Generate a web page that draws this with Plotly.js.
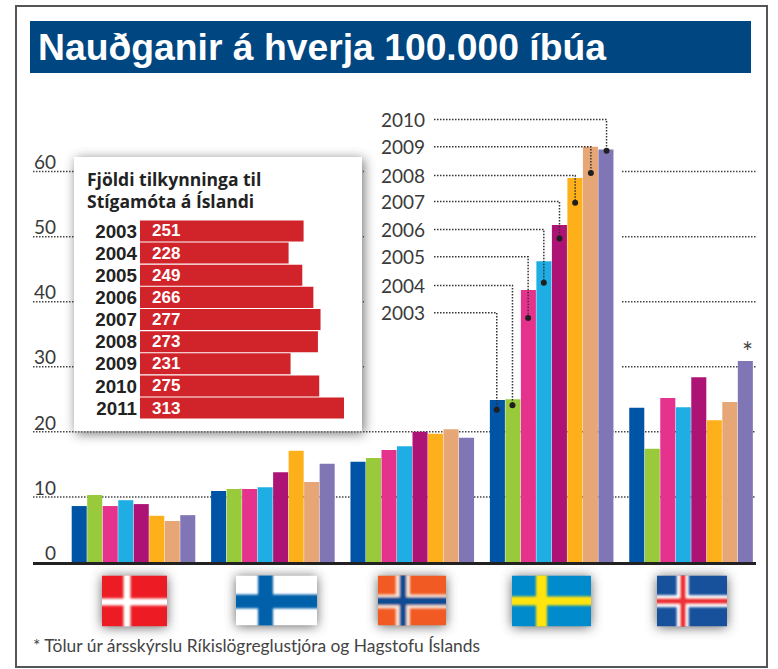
<!DOCTYPE html>
<html><head><meta charset="utf-8">
<script src="https://cdn.plot.ly/plotly-3.0.1.min.js"></script>
<style>html,body{margin:0;padding:0;background:#fff}</style></head>
<body><div id="chart" style="width:778px;height:669px"></div>
<script>
const countries = ["Danmörk","Finnland","Noregur","Svíþjóð","Ísland"];
const years = ["2003","2004","2005","2006","2007","2008","2009","2010"];
const v2003 = [8.6,10.9,15.4,24.9,23.7];
const v2004 = [10.3,11.2,16.0,25.0,17.4];
const v2005 = [8.6,11.2,17.2,41.8,25.2];
const v2006 = [9.5,11.5,17.8,46.2,23.8];
const v2007 = [8.9,13.8,20.0,51.8,28.4];
const v2008 = [7.1,17.1,19.7,59.0,21.8];
const v2009 = [6.3,12.3,20.4,63.8,24.6];
const v2010 = [7.2,15.1,19.1,63.4,30.9];
const seriesValues = [v2003,v2004,v2005,v2006,v2007,v2008,v2009,v2010];
const seriesColors = ["#0054a6","#99ca3c","#e5328c","#1eaee3","#ac1375","#fdb01a","#e7a676","#8076b6"];
const swedenDots = [23.4,24.1,37.5,42.9,49.7,55.2,59.8,63.2];
const yearLabelLevels = [38.3,42.5,46.9,51.1,55.4,59.4,63.8,68.0];
const insetYears = ["2003","2004","2005","2006","2007","2008","2009","2010","2011"];
const insetValues = [251,228,249,266,277,273,231,275,313];
const gridFull = [10,20];
const gridBroken = [30,40,50,60];
const axisTicks = [0,10,20,30,40,50,60];
const titleText = "Nauðganir á hverja 100.000 íbúa";
const insetTitle = ["Fjöldi tilkynninga til","Stígamóta á Íslandi"];
const footnote = "* Tölur úr ársskýrslu Ríkislögreglustjóra og Hagstofu Íslands";

const L=33,R=756,T=100,B=562.5;
const px=x=>(x-L)/(R-L), py=y=>(B-y)/(B-T);
const STEP=0.1125, LEADER_START=2.156;
const slotX=i=>3+(i-3.5)*STEP;

function flagUri(w,h,bg,layers){
  const m=26;
  let r='';
  layers.forEach(l=>{
    r+=`<rect x="${l[1]}" y="-5" width="${l[2]}" height="${h+10}" fill="${l[0]}"/>`;
    r+=`<rect x="-5" y="${l[3]}" width="${w+10}" height="${l[4]}" fill="${l[0]}"/>`;
  });
  const s=`<svg xmlns="http://www.w3.org/2000/svg" width="${w+2*m}" height="${h+2*m}"><defs><filter id="s" x="-50%" y="-50%" width="200%" height="200%"><feGaussianBlur stdDeviation="6"/></filter><filter id="c" x="-10%" y="-10%" width="120%" height="120%"><feGaussianBlur stdDeviation="1"/></filter></defs><rect x="${m}" y="${m+1}" width="${w}" height="${h}" fill="#444" opacity="0.8" filter="url(#s)"/><svg x="${m}" y="${m}" width="${w}" height="${h}" viewBox="0 0 ${w} ${h}"><rect width="${w}" height="${h}" fill="${bg}"/><g filter="url(#c)">${r}</g></svg></svg>`;
  return {uri:'data:image/svg+xml;charset=utf-8,'+encodeURIComponent(s),m};
}
function imageAt(x,y,w,h,o,layer){
  return {source:o.uri,xref:'paper',yref:'paper',x:px(x-o.m),y:py(y-o.m),sizex:(w+2*o.m)/(R-L),sizey:(h+2*o.m)/(B-T),xanchor:'left',yanchor:'top',sizing:'stretch',layer:layer||'above'};
}
function shadowUri(w,h){
  const m=30;
  const s=`<svg xmlns="http://www.w3.org/2000/svg" width="${w+2*m}" height="${h+2*m}"><defs><filter id="s" x="-20%" y="-20%" width="140%" height="140%"><feGaussianBlur stdDeviation="6"/></filter></defs><rect x="${m+2}" y="${m+2}" width="${w}" height="${h}" fill="#444" opacity="0.75" filter="url(#s)"/></svg>`;
  return {uri:'data:image/svg+xml;charset=utf-8,'+encodeURIComponent(s),m};
}
const images=[
  imageAt(74,157,288,275,shadowUri(288,275),'below'),
  imageAt(102,576,65,51,flagUri(65,51,'#ed1c24',[['#ffffff',21.5,7,23,7]])),
  imageAt(236,576,81,50,flagUri(81,50,'#ffffff',[['#0061aa',22,15,19,14]])),
  imageAt(378,576,68,50,flagUri(68,50,'#f15a22',[['#fbe3d6',17.7,14.3,19,14],['#0f4c92',21.7,6.6,21.7,8]])),
  imageAt(512,576,79,51,flagUri(79,51,'#008ccc',[['#ffe40f',24,11,21,9]])),
  imageAt(657,576,70,51,flagUri(70,51,'#17509b',[['#ffffff',19.7,12,19.7,12],['#ee3338',23,6,22.7,6]]))
];

const gridStyle={color:'#444',width:1.5,dash:'1.5px,1.5px'};
const shapes=[];
shapes.push({type:'rect',layer:'below',xref:'paper',yref:'paper',x0:px(16),x1:px(767),y0:py(6),y1:py(667.5),line:{color:'#555',width:2},fillcolor:'rgba(0,0,0,0)'});
gridFull.forEach(v=>shapes.push({type:'line',layer:'below',xref:'paper',yref:'y',x0:0,x1:1,y0:v,y1:v,line:gridStyle}));
gridBroken.forEach(v=>{
  shapes.push({type:'line',layer:'below',xref:'paper',yref:'y',x0:0,x1:px(364),y0:v,y1:v,line:gridStyle});
  shapes.push({type:'line',layer:'below',xref:'paper',yref:'y',x0:px(622),x1:1,y0:v,y1:v,line:gridStyle});
});
shapes.push({type:'rect',layer:'below',xref:'paper',yref:'paper',x0:px(74),x1:px(362),y0:py(157),y1:py(431.5),line:{width:0},fillcolor:'#ffffff'});
shapes.push({type:'rect',layer:'below',xref:'paper',yref:'paper',x0:px(30),x1:px(751),y0:py(21),y1:py(73),line:{width:0},fillcolor:'#004681'});

const traces=seriesValues.map((vals,i)=>({type:'bar',name:years[i],x:[0,1,2,3,4],y:vals,customdata:countries,marker:{color:seriesColors[i]},showlegend:false,hoverinfo:'x+y+name'}));

const lx=[],ly=[];
years.forEach((yr,i)=>{lx.push(LEADER_START,slotX(i),slotX(i),null);ly.push(yearLabelLevels[i],yearLabelLevels[i],swedenDots[i],null);});
traces.push({type:'scatter',mode:'lines',x:lx,y:ly,line:{color:'#333',width:1.5,dash:'1.5px,1.5px'},showlegend:false,hoverinfo:'skip'});
traces.push({type:'scatter',mode:'markers',x:years.map((y,i)=>slotX(i)),y:swedenDots,marker:{color:'#1f1f1f',size:6},showlegend:false,hoverinfo:'skip'});
traces.push({type:'bar',orientation:'h',name:'Stígamót',x:insetValues,y:insetYears,xaxis:'x2',yaxis:'y2',width:0.95,marker:{color:'#d0232a'},showlegend:false});

const numFont={family:'Lato, "Open Sans", sans-serif',size:19,color:'#3a3a3a',weight:400};
const annotations=[];
annotations.push({xref:'paper',yref:'paper',x:px(36),y:py(47),xanchor:'left',yanchor:'middle',showarrow:false,text:titleText,font:{family:'"Liberation Sans",sans-serif',size:37.3,color:'#fff',weight:700}});
annotations.push({xref:'paper',yref:'paper',x:px(85),y:py(179),xanchor:'left',yanchor:'middle',showarrow:false,text:insetTitle[0],font:{family:'"Open Sans",sans-serif',size:17.5,color:'#222',weight:700}});
annotations.push({xref:'paper',yref:'paper',x:px(85),y:py(201),xanchor:'left',yanchor:'middle',showarrow:false,text:insetTitle[1],font:{family:'"Open Sans",sans-serif',size:17.5,color:'#222',weight:700}});
insetYears.forEach((yr,i)=>annotations.push({xref:'x2',yref:'y2',x:0,y:i,xanchor:'left',yanchor:'middle',xshift:11,borderpad:0,showarrow:false,text:String(insetValues[i]),font:{family:'"Liberation Sans",sans-serif',size:17,color:'#fff',weight:700}}));
years.forEach((yr,i)=>annotations.push({xref:'x',yref:'y',x:LEADER_START,y:yearLabelLevels[i],xanchor:'right',yanchor:'middle',xshift:-7,showarrow:false,text:yr,font:numFont}));
annotations.push({xref:'x',yref:'y',x:slotX(7)+1.014,y:v2010[4],xanchor:'center',yanchor:'bottom',yshift:-9,showarrow:false,text:'*',font:{family:'Lato,sans-serif',size:26,color:'#444'}});
annotations.push({xref:'paper',yref:'paper',x:px(31),y:py(646),xanchor:'left',yanchor:'middle',showarrow:false,text:footnote,font:{family:'Lato,sans-serif',size:17.4,color:'#444'}});

const layout={
  width:778,height:669,autosize:false,
  margin:{l:L,r:778-R,t:T,b:669-B,pad:0},
  paper_bgcolor:'#fff',plot_bgcolor:'rgba(0,0,0,0)',
  barmode:'group',bargap:0.11,bargroupgap:0.03,showlegend:false,
  xaxis:{range:[-0.721,4.466],tickmode:'array',tickvals:[0,1,2,3,4],ticktext:countries,showticklabels:false,ticks:'',showgrid:false,zeroline:false,showline:true,linecolor:'#222',linewidth:3},
  yaxis:{range:[0,71],anchor:'free',position:px(56),tickmode:'array',tickvals:axisTicks,ticks:'',showgrid:false,zeroline:false,showline:false,tickfont:numFont,ticklabelshift:-9},
  xaxis2:{domain:[px(140),px(344)],range:[0,313],anchor:'y2',showticklabels:false,ticks:'',showline:false,showgrid:false,zeroline:false},
  yaxis2:{domain:[py(419.5),py(220)],anchor:'x2',type:'category',range:[8.5,-0.5],categoryorder:'array',categoryarray:insetYears,tickmode:'array',tickvals:[0,1,2,3,4,5,6,7,8],ticktext:insetYears,ticks:'',showgrid:false,zeroline:false,showline:false,ticklabelstandoff:2,tickfont:{family:'"Liberation Sans",sans-serif',size:18.8,color:'#222',weight:700}},
  shapes,images,annotations
};
Plotly.newPlot('chart',traces,layout,{displayModeBar:false,staticPlot:true});
</script></body></html>
